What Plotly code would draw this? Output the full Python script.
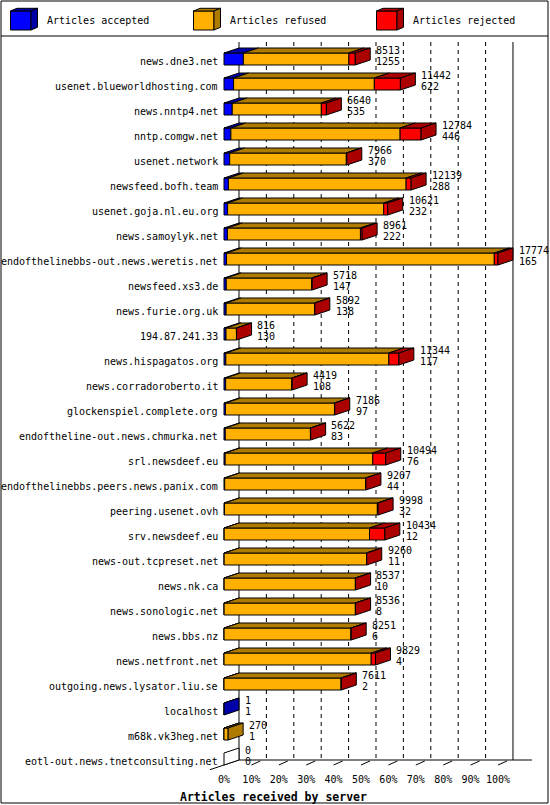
import plotly.graph_objects as go

servers = [
    "news.dne3.net", "usenet.blueworldhosting.com", "news.nntp4.net", "nntp.comgw.net",
    "usenet.network", "newsfeed.bofh.team", "usenet.goja.nl.eu.org", "news.samoylyk.net",
    "endofthelinebbs-out.news.weretis.net", "newsfeed.xs3.de", "news.furie.org.uk",
    "194.87.241.33", "news.hispagatos.org", "news.corradoroberto.it", "glockenspiel.complete.org",
    "endoftheline-out.news.chmurka.net", "srl.newsdeef.eu", "endofthelinebbs.peers.news.panix.com",
    "peering.usenet.ovh", "srv.newsdeef.eu", "news-out.tcpreset.net", "news.nk.ca",
    "news.sonologic.net", "news.bbs.nz", "news.netfront.net", "outgoing.news.lysator.liu.se",
    "localhost", "m68k.vk3heg.net", "eotl-out.news.tnetconsulting.net",
]
totals = [8513, 11442, 6640, 12784, 7966, 12139, 10621, 8961, 17774, 5718, 5892, 816, 11344,
          4419, 7186, 5622, 10494, 9207, 9998, 10434, 9260, 8537, 8536, 8251, 9829, 7611, 1, 270, 0]
accepted = [1255, 622, 535, 446, 370, 288, 232, 222, 165, 147, 138, 130, 117, 108, 97, 83, 76,
            44, 32, 12, 11, 10, 8, 6, 4, 2, 1, 1, 0]
# rejected counts estimated from the red part of each bar
rejected = [410, 1690, 325, 1360, 30, 325, 260, 110, 240, 20, 20, 10, 650, 15, 20, 15, 845,
            20, 50, 995, 15, 15, 15, 15, 280, 15, 0, 0, 0]
refused = [t - a - r for t, a, r in zip(totals, accepted, rejected)]

series = ["Articles accepted", "Articles refused", "Articles rejected"]
ticks = list(range(0, 101, 10))
tick_text = [f"{t}%" for t in ticks]

FRONT = ["#0000ff", "#ffb000", "#ff0000"]
DARK = ["#0000a8", "#b07c00", "#ac0000"]
MONO = "DejaVu Sans Mono"

# 3d look: depth offset in axis units, half height of a bar
DX, DY, H = 5.47, 0.2, 0.24
W, HT = 550, 805
ML, MR, MT, MB = 210, 10, 40, 33


def px(x):
    return (x - ML) / (W - ML - MR)


def py(y):
    return (HT - MB - y) / (HT - MT - MB)


def add_poly(store, pts):
    xs, ys = store
    for x, y in pts + [pts[0]]:
        xs.append(x)
        ys.append(y)
    xs.append(None)
    ys.append(None)


fig = go.Figure()

peak = max(totals)
y_floor = len(servers) - 1 + H  # front edge of the floor

# back wall grid
gx, gy = [], []
for t in ticks[1:-1]:
    gx += [t + DX, t + DX, None]
    gy += [-0.68, y_floor - DY, None]
fig.add_trace(go.Scatter(x=gx, y=gy, mode="lines", line=dict(color="black", width=1, dash="4px,4px"),
                         hoverinfo="skip", showlegend=False))
wx, wy = [], []
for t in [0, 100]:
    wx += [t + DX, t + DX, None]
    wy += [-0.68, y_floor - DY, None]
wx += [-DX, DX, None, DX, 112.4, None]
wy += [y_floor + DY, y_floor - DY, None, y_floor - DY, y_floor - DY, None]
for t in ticks[1:]:
    wx += [t, t + DX * 0.6, None]
    wy += [y_floor, y_floor - 0.16, None]
fig.add_trace(go.Scatter(x=wx, y=wy, mode="lines", line=dict(color="black", width=1),
                         hoverinfo="skip", showlegend=False))

fronts = [([], []) for _ in range(3)]
tops = [([], []) for _ in range(3)]
sides = [([], []) for _ in range(4)]
for i in range(len(servers)):
    vals = [accepted[i], refused[i], rejected[i]]
    x0 = 0
    last = 3
    for k, v in enumerate(vals):
        if v <= 0:
            continue
        w = v / peak * 100
        add_poly(fronts[k], [(x0, i - H), (x0 + w, i - H), (x0 + w, i + H), (x0, i + H)])
        add_poly(tops[k], [(x0, i - H), (x0 + w, i - H), (x0 + w + DX, i - H - DY), (x0 + DX, i - H - DY)])
        x0 += w
        last = k
    add_poly(sides[last], [(x0, i - H), (x0, i + H), (x0 + DX, i + H - DY), (x0 + DX, i - H - DY)])

for k in range(3):
    for store, col in [(fronts[k], FRONT[k]), (tops[k], DARK[k]), (sides[k], DARK[k])]:
        fig.add_trace(go.Scatter(x=store[0], y=store[1], mode="lines", fill="toself", fillcolor=col,
                                 line=dict(color="black", width=1), hoverinfo="skip", showlegend=False))
fig.add_trace(go.Scatter(x=sides[3][0], y=sides[3][1], mode="lines", fill="toself", fillcolor="white",
                         line=dict(color="black", width=1), hoverinfo="skip", showlegend=False))

annotations = []
for i, name in enumerate(servers):
    end = totals[i] / peak * 100 + DX + 1.4
    annotations.append(dict(x=-1.46, y=i + 0.08, text=name, xanchor="right", yanchor="middle", showarrow=False))
    annotations.append(dict(x=end, y=i - 0.36, text=str(totals[i]), xanchor="left", yanchor="middle",
                            showarrow=False))
    annotations.append(dict(x=end, y=i + 0.08, text=str(accepted[i]), xanchor="left", yanchor="middle",
                            showarrow=False))

# legend boxes at the top
shapes = [
    dict(type="rect", xref="paper", yref="paper", x0=px(1), x1=px(548), y0=py(803), y1=py(1),
         line=dict(color="black", width=1)),
    dict(type="line", xref="paper", yref="paper", x0=px(1), x1=px(548), y0=py(36), y1=py(36),
         line=dict(color="black", width=1)),
]
for k, (lx, tx) in enumerate([(10.5, 44.5), (193.5, 227.5), (376.5, 410.5)]):
    a, b, c, d = lx, lx + 20.5, 11, 30
    faces = [
        ([(a, c), (b, c), (b, d), (a, d)], FRONT[k]),
        ([(a, c), (b, c), (b + 6.5, c - 2.7), (a + 6.5, c - 2.7)], DARK[k]),
        ([(b, c), (b, d), (b + 6.5, d - 2.7), (b + 6.5, c - 2.7)], DARK[k]),
    ]
    for pts, col in faces:
        path = "M " + " L ".join(f"{px(x):.5f},{py(y):.5f}" for x, y in pts) + " Z"
        shapes.append(dict(type="path", xref="paper", yref="paper", path=path, fillcolor=col,
                           line=dict(color="black", width=1)))
    annotations.append(dict(xref="paper", yref="paper", x=px(tx), y=py(20.5), text=series[k],
                            xanchor="left", yanchor="middle", showarrow=False))

annotations.append(dict(xref="paper", yref="paper", x=px(273), y=py(797), text="<b>Articles received by server</b>",
                        xanchor="center", yanchor="middle", showarrow=False, font=dict(size=11.5)))

fig.update_layout(
    width=W, height=HT,
    margin=dict(l=ML, r=MR, t=MT, b=MB),
    plot_bgcolor="white", paper_bgcolor="white",
    font=dict(family=MONO, size=10, color="black"),
    xaxis=dict(range=[-5.11, 115.33], tickvals=ticks, ticktext=tick_text, showgrid=False,
               zeroline=False, showline=False, ticks="", fixedrange=True),
    yaxis=dict(range=[28.52, -0.76], visible=False, fixedrange=True),
    shapes=shapes, annotations=annotations, showlegend=False,
)

# page margin off so the chart sits at the window corner
fig.write_html("out.html", config={"displayModeBar": False},
               post_script="document.body.style.margin='0';")
